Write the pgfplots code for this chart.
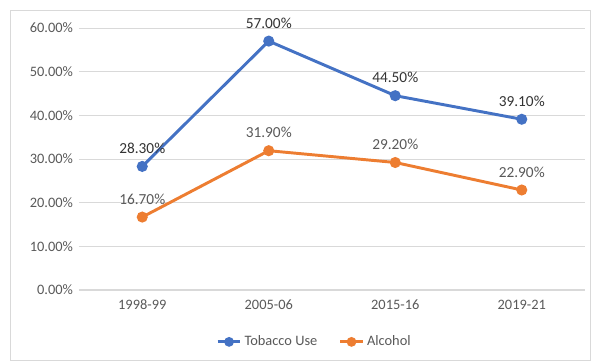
\documentclass[border=0pt]{standalone}
\usepackage{pgfplots}
\pgfplotsset{compat=1.18}
\usepackage{fontspec}
\setmainfont{Carlito}
\definecolor{exblue}{HTML}{4472C4}
\definecolor{exorange}{HTML}{ED7D31}
\definecolor{txt}{HTML}{595959}
\definecolor{gridc}{HTML}{D9D9D9}
\begin{document}
\begin{tikzpicture}
\path[use as bounding box] (-59.25pt,-55.5pt) rectangle (385.5pt,217.5pt);
\draw[gridc, line width=0.6pt] (-51.75pt,-52.5pt) rectangle (383.25pt,210pt);
\begin{axis}[
  scale only axis,
  width=379.5pt, height=196.5pt,
  at={(0,0)}, anchor=south west,
  xmin=-0.5, xmax=3.5,
  ymin=0, ymax=60,
  xtick={0,1,2,3},
  xticklabels={1998-99,2005-06,2015-16,2019-21},
  ytick={0,10,20,30,40,50,60},
  yticklabel={\pgfmathprintnumber[fixed,fixed zerofill,precision=2]{\tick}\%},
  /pgf/number format/assume math mode=true,
  ymajorgrids, xmajorgrids=false,
  major grid style={draw=gridc, line width=0.6pt},
  axis x line*=bottom,
  axis y line*=left,
  x axis line style={draw=gridc, line width=0.8pt},
  y axis line style={draw=none},
  major tick style={draw=none},
  tick label style={font=\fontsize{10.8}{12}\selectfont, text=txt},
  yticklabel style={xshift=-1pt},
  xticklabel style={yshift=-4pt},
  clip=false,
  legend style={at={(0.466,-0.198)}, anchor=center, draw=none, legend columns=2,
    font=\fontsize{10.8}{12}\selectfont, text=txt,
    /tikz/every even column/.append style={column sep=14pt}},
  legend image code/.code={
    \draw[#1, mark=none] (0cm,0cm) -- (0.6cm,0cm);
    \fill[#1] (0.3cm,0cm) circle (2.5pt);
  },
  nodes near coords={\pgfmathprintnumber[fixed,fixed zerofill,precision=2]{\pgfplotspointmeta}\%},
  nodes near coords style={font=\fontsize{11.5}{12}\selectfont, yshift=5pt},
]
\addplot[exblue, line width=2.2pt, mark=*, mark size=3pt, nodes near coords style={text=black!80}] coordinates {(0,28.3) (1,57.0) (2,44.5) (3,39.1)};
\addlegendentry{Tobacco Use}
\addplot[exorange, line width=2.2pt, mark=*, mark size=3pt, nodes near coords style={text=txt}] coordinates {(0,16.7) (1,31.9) (2,29.2) (3,22.9)};
\addlegendentry{Alcohol}
\end{axis}
\end{tikzpicture}
\end{document}
